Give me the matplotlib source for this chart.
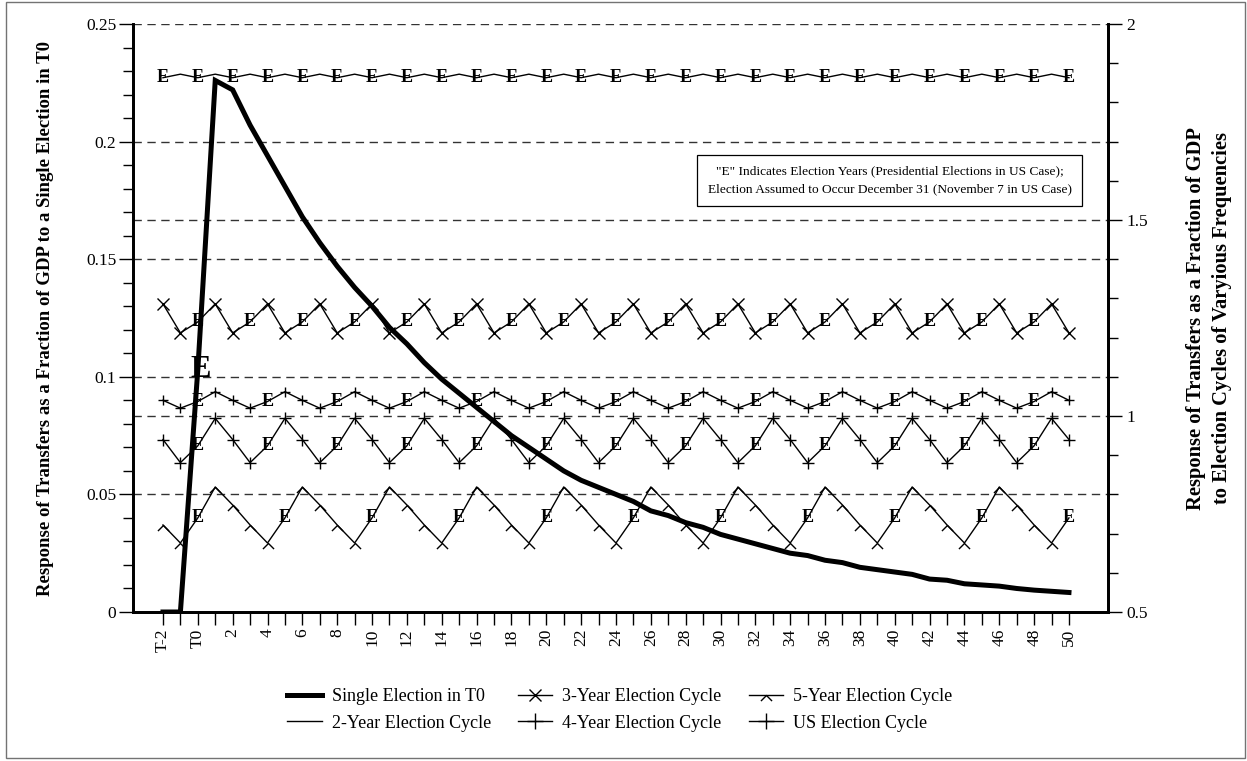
import matplotlib
matplotlib.use('Agg')
import matplotlib.pyplot as plt
from matplotlib.path import Path
from matplotlib.patches import Rectangle
from matplotlib.lines import Line2D
from matplotlib.ticker import MultipleLocator

plt.rcParams['font.family'] = ['Liberation Serif', 'DejaVu Serif']

# ---------------- data ----------------
periods = ['T-2', 'T-1', 'T0'] + [str(i) for i in range(1, 51)]
tick_labels = [p if i % 2 == 0 else '' for i, p in enumerate(periods)]

single = [0.0, 0.0, 0.103, 0.226, 0.222, 0.207, 0.194, 0.181, 0.168, 0.157,
          0.147, 0.138, 0.130, 0.121, 0.114, 0.106, 0.099, 0.093, 0.087, 0.081,
          0.075, 0.070, 0.065, 0.060, 0.056, 0.053, 0.050, 0.047, 0.043, 0.041,
          0.038, 0.036, 0.033, 0.031, 0.029, 0.027, 0.025, 0.024, 0.022, 0.021,
          0.019, 0.018, 0.017, 0.016, 0.014, 0.0135, 0.012, 0.0115, 0.011, 0.010,
          0.0093, 0.0088, 0.0083]

cycle_2yr = [1.863, 1.872, 1.863, 1.872, 1.863, 1.872, 1.863, 1.872, 1.863, 1.872,
             1.863, 1.872, 1.863, 1.872, 1.863, 1.872, 1.863, 1.872, 1.863, 1.872,
             1.863, 1.872, 1.863, 1.872, 1.863, 1.872, 1.863, 1.872, 1.863, 1.872,
             1.863, 1.872, 1.863, 1.872, 1.863, 1.872, 1.863, 1.872, 1.863, 1.872,
             1.863, 1.872, 1.863, 1.872, 1.863, 1.872, 1.863, 1.872, 1.863, 1.872,
             1.863, 1.872, 1.863]

cycle_3yr = [1.286, 1.212, 1.240, 1.286, 1.212, 1.240, 1.286, 1.212, 1.240,
             1.286, 1.212, 1.240, 1.286, 1.212, 1.240, 1.286, 1.212, 1.240,
             1.286, 1.212, 1.240, 1.286, 1.212, 1.240, 1.286, 1.212, 1.240,
             1.286, 1.212, 1.240, 1.286, 1.212, 1.240, 1.286, 1.212, 1.240,
             1.286, 1.212, 1.240, 1.286, 1.212, 1.240, 1.286, 1.212, 1.240,
             1.286, 1.212, 1.240, 1.286, 1.212, 1.240, 1.286, 1.212]

cycle_4yr = [0.940, 0.881, 0.924, 0.994, 0.940, 0.881, 0.924, 0.994,
             0.940, 0.881, 0.924, 0.994, 0.940, 0.881, 0.924, 0.994,
             0.940, 0.881, 0.924, 0.994, 0.940, 0.881, 0.924, 0.994,
             0.940, 0.881, 0.924, 0.994, 0.940, 0.881, 0.924, 0.994,
             0.940, 0.881, 0.924, 0.994, 0.940, 0.881, 0.924, 0.994,
             0.940, 0.881, 0.924, 0.994, 0.940, 0.881, 0.924, 0.994,
             0.940, 0.881, 0.924, 0.994, 0.940]

cycle_us = [1.040, 1.020, 1.037, 1.062, 1.040, 1.020, 1.037, 1.062,
            1.040, 1.020, 1.037, 1.062, 1.040, 1.020, 1.037, 1.062,
            1.040, 1.020, 1.037, 1.062, 1.040, 1.020, 1.037, 1.062,
            1.040, 1.020, 1.037, 1.062, 1.040, 1.020, 1.037, 1.062,
            1.040, 1.020, 1.037, 1.062, 1.040, 1.020, 1.037, 1.062,
            1.040, 1.020, 1.037, 1.062, 1.040, 1.020, 1.037, 1.062,
            1.040, 1.020, 1.037, 1.062, 1.040]

cycle_5yr = [0.722, 0.676, 0.740, 0.819, 0.773, 0.722, 0.676, 0.740, 0.819, 0.773,
             0.722, 0.676, 0.740, 0.819, 0.773, 0.722, 0.676, 0.740, 0.819, 0.773,
             0.722, 0.676, 0.740, 0.819, 0.773, 0.722, 0.676, 0.740, 0.819, 0.773,
             0.722, 0.676, 0.740, 0.819, 0.773, 0.722, 0.676, 0.740, 0.819, 0.773,
             0.722, 0.676, 0.740, 0.819, 0.773, 0.722, 0.676, 0.740, 0.819, 0.773,
             0.722, 0.676, 0.740]

# election years (as period labels)
elect_single = ['T0']
elect_2yr = ['T-2', 'T0'] + [str(y) for y in range(2, 51, 2)]
elect_3yr = ['T0'] + [str(y) for y in range(3, 51, 3)]
elect_4yr = ['T0'] + [str(y) for y in range(4, 51, 4)]
elect_us = ['T0'] + [str(y) for y in range(4, 51, 4)]
elect_5yr = ['T0'] + [str(y) for y in range(5, 51, 5)]

labels = ['Single Election in T0', '2-Year Election Cycle', '3-Year Election Cycle',
          '4-Year Election Cycle', '5-Year Election Cycle', 'US Election Cycle']

note = ('"E" Indicates Election Years (Presidential Elections in US Case);\n'
        'Election Assumed to Occur December 31 (November 7 in US Case)')
ylabel_left = 'Response of Transfers as a Fraction of GDP to a Single Election in T0'
ylabel_right = 'Response of Transfers as a Fraction of GDP\nto Election Cycles of Varyious Frequencies'

# ---------------- figure ----------------
W, H = 1247, 761
fig = plt.figure(figsize=(W / 100, H / 100), dpi=100)
ax = fig.add_axes([133 / W, 1 - 612 / H, (1108 - 133) / W, (612 - 24) / H])
ax2 = ax.twinx()

x = list(range(len(periods)))
idx = {p: i for i, p in enumerate(periods)}

caret = Path([(-1, -1), (0, 0), (1, -1)], [Path.MOVETO, Path.LINETO, Path.LINETO])

series = [
    (cycle_2yr, elect_2yr, None, 0),
    (cycle_3yr, elect_3yr, 'x', 9),
    (cycle_4yr, elect_4yr, '+', 9),
    (cycle_5yr, elect_5yr, caret, 8),
    (cycle_us, elect_us, '+', 6.5),
]

for vals, elect, mk, ms in series:
    eidx = [idx[p] for p in elect]
    non = [i for i in x if i not in eidx]
    ax2.plot(x, vals, color='black', lw=1.0, zorder=3,
             marker=mk, markersize=ms, markevery=non, mew=1.0,
             fillstyle='none')
    for i in eidx:
        ax2.text(i, vals[i], 'E', ha='center', va='center', fontsize=13,
                 fontweight='bold', color='black', zorder=4)

ax.plot(x, single, color='black', lw=3.6, zorder=5, solid_joinstyle='miter')
for p in elect_single:
    ax.text(idx[p] + 0.15, single[idx[p]], 'E', ha='center', va='center',
            fontsize=22, fontweight='bold', color='black', zorder=6)

ax.set_zorder(ax2.get_zorder() + 1)
ax.patch.set_visible(False)

# axes limits and ticks
ax.set_xlim(-1.72, 54.24)
ax.set_ylim(0, 0.25)
ax2.set_ylim(0.5, 2.0)

ax.set_xticks(x)
ax.set_xticklabels(tick_labels, rotation=90, fontsize=12.5)
ax.set_yticks([0, 0.05, 0.1, 0.15, 0.2, 0.25])
ax.set_yticklabels(['0', '0.05', '0.1', '0.15', '0.2', '0.25'], fontsize=12.5)
ax.yaxis.set_minor_locator(MultipleLocator(0.01))
ax2.set_yticks([0.5, 1.0, 1.5, 2.0])
ax2.set_yticklabels(['0.5', '1', '1.5', '2'], fontsize=12.5)
ax2.yaxis.set_minor_locator(MultipleLocator(0.1))

ax.tick_params(axis='x', direction='out', length=9, width=1.0, pad=3)
ax.tick_params(axis='y', which='major', direction='out', length=10, width=1.0, pad=2)
ax.tick_params(axis='y', which='minor', direction='out', length=7, width=1.0)
ax2.tick_params(axis='y', which='major', direction='out', length=10, width=1.0, pad=3)
ax2.tick_params(axis='y', which='minor', direction='out', length=7, width=1.0)

for a in (ax, ax2):
    a.spines['top'].set_visible(False)
    for s in ('left', 'right', 'bottom'):
        a.spines[s].set_linewidth(2.0)

# dashed gridlines
dash = (0, (6, 4))
for v in [0.05, 0.1, 0.15, 0.2, 0.25]:
    ax2.axhline(0.5 + v * 6, color='0.2', lw=1.0, ls=dash, zorder=1)
for v in [1.0, 1.5]:
    ax2.axhline(v, color='0.2', lw=1.0, ls=dash, zorder=1)

# axis titles
yc = 1 - 318 / H
fig.text(46 / W, yc, ylabel_left, rotation=90, ha='center', va='center',
         fontsize=13.5, fontweight='bold')
fig.text(1209 / W, yc, ylabel_right, rotation=90, ha='center', va='center',
         fontsize=14.8, fontweight='bold', linespacing=1.45, multialignment='center')

# note box
ax.text(0.776, 0.734, note, transform=ax.transAxes, ha='center', va='center',
        fontsize=9.6, linespacing=1.7, zorder=7,
        bbox=dict(boxstyle='square,pad=0.8', facecolor='white',
                  edgecolor='black', lw=0.9))

# legend
handles = [
    Line2D([], [], color='black', lw=3.6),
    Line2D([], [], color='black', lw=1.0),
    Line2D([], [], color='black', lw=1.0, marker='x', markersize=9),
    Line2D([], [], color='black', lw=1.0, marker='+', markersize=11),
    Line2D([], [], color='black', lw=1.0, marker=caret, markersize=8, fillstyle='none'),
    Line2D([], [], color='black', lw=1.0, marker='+', markersize=11),
]
fig.legend(handles, labels, loc='center', bbox_to_anchor=(0.497, 0.067), ncol=3,
           frameon=False, fontsize=13, handlelength=1.9, columnspacing=1.5,
           handletextpad=0.55, labelspacing=0.5, borderpad=0.2)

# figure border
fig.patches.append(Rectangle((0.005, 0.004), 0.993, 0.993, transform=fig.transFigure,
                             fill=False, edgecolor='0.45', lw=1.0))

fig.savefig('out.png', dpi=100)
